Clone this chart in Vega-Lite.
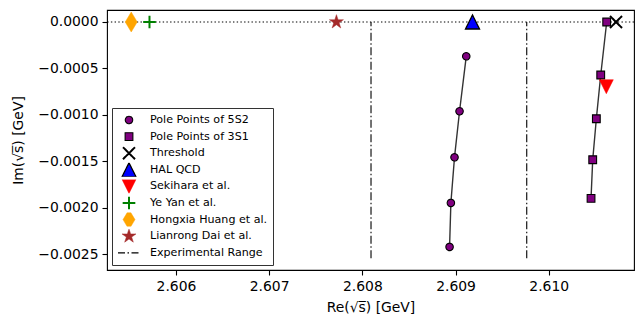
{
  "$schema": "https://vega.github.io/schema/vega-lite/v6.json",
  "width": 527,
  "height": 260,
  "autosize": "none",
  "padding": {"left": 107, "top": 10, "right": 3, "bottom": 50},
  "background": "white",
  "config": {
    "font": "DejaVu Sans",
    "view": {"stroke": "black", "strokeWidth": 1.1},
    "axis": {
      "grid": false, "domain": false, "tickColor": "black", "tickSize": 5, "tickWidth": 1.1,
      "labelColor": "black", "labelFontSize": 13.9, "titleFontSize": 13.9, "titleFontWeight": "normal",
      "titleColor": "black", "labelPadding": 4, "labelFont": "DejaVu Sans", "titleFont": "DejaVu Sans"
    },
    "legend": {
      "orient": "bottom-left", "offset": 5, "padding": 5, "fillColor": "rgba(255,255,255,0.85)",
      "strokeColor": "#333333", "labelFontSize": 11.1, "labelFont": "DejaVu Sans", "labelColor": "black",
      "labelLimit": 400, "rowPadding": 2.6, "labelOffset": 9, "clipHeight": 14
    }
  },
  "datasets": {
    "poles": [
      {"series": "Pole Points of 5S2", "re": 2.609115, "im": -0.000369},
      {"series": "Pole Points of 5S2", "re": 2.609043, "im": -0.000960},
      {"series": "Pole Points of 5S2", "re": 2.608989, "im": -0.001455},
      {"series": "Pole Points of 5S2", "re": 2.608950, "im": -0.001946},
      {"series": "Pole Points of 5S2", "re": 2.608936, "im": -0.002419},
      {"series": "Pole Points of 3S1", "re": 2.610622, "im": 0.0},
      {"series": "Pole Points of 3S1", "re": 2.610558, "im": -0.000570},
      {"series": "Pole Points of 3S1", "re": 2.610511, "im": -0.001040},
      {"series": "Pole Points of 3S1", "re": 2.610472, "im": -0.001481},
      {"series": "Pole Points of 3S1", "re": 2.610454, "im": -0.001896},
      {"series": "Threshold", "re": 2.610722, "im": 0.0},
      {"series": "HAL QCD", "re": 2.609182, "im": 0.0},
      {"series": "Sekihara et al.", "re": 2.610618, "im": -0.000696},
      {"series": "Ye Yan et al.", "re": 2.605716, "im": 0.0},
      {"series": "Hongxia Huang et al.", "re": 2.605520, "im": 0.0},
      {"series": "Lianrong Dai et al.", "re": 2.607722, "im": 0.0}
    ]
  },
  "layer": [
    {
      "data": {"values": [{"im": 0.0}]},
      "mark": {"type": "rule", "color": "black", "strokeWidth": 1.2, "strokeDash": [1.4, 2.3]},
      "encoding": {
        "y": {
          "field": "im", "type": "quantitative",
          "scale": {"domain": [-0.002667, 0.000129], "nice": false, "zero": false},
          "axis": {"values": [0, -0.0005, -0.001, -0.0015, -0.002, -0.0025], "format": ".4f", "title": "Im(√s̅) [GeV]", "titlePadding": 12}
        }
      }
    },
    {
      "data": {"values": [
        {"re": 2.608093, "im": -0.00254, "im2": 0.0},
        {"re": 2.609764, "im": -0.00254, "im2": 0.0}
      ]},
      "mark": {"type": "rule", "color": "black", "strokeWidth": 1.1, "strokeDash": [8, 2.5, 1.5, 2.5]},
      "encoding": {
        "x": {
          "field": "re", "type": "quantitative",
          "scale": {"domain": [2.60526, 2.610915], "nice": false, "zero": false},
          "axis": {"values": [2.606, 2.607, 2.608, 2.609, 2.61], "format": ".3f", "title": "Re(√s̅) [GeV]", "titlePadding": 8}
        },
        "y": {"field": "im", "type": "quantitative"},
        "y2": {"field": "im2"}
      }
    },
    {
      "data": {"name": "poles"},
      "transform": [{"filter": "datum.series === 'Pole Points of 5S2' || datum.series === 'Pole Points of 3S1'"}],
      "mark": {"type": "line", "color": "#333333", "strokeWidth": 1.4},
      "encoding": {
        "x": {"field": "re", "type": "quantitative"},
        "y": {"field": "im", "type": "quantitative"},
        "detail": {"field": "series"},
        "order": {"field": "im", "type": "quantitative"}
      }
    },
    {
      "data": {"name": "poles"},
      "mark": {"type": "point", "filled": true, "opacity": 1},
      "encoding": {
        "x": {"field": "re", "type": "quantitative"},
        "y": {"field": "im", "type": "quantitative"},
        "fill": {
          "field": "series", "type": "nominal",
          "scale": {
            "domain": ["Pole Points of 5S2", "Pole Points of 3S1", "Threshold", "HAL QCD", "Sekihara et al.", "Ye Yan et al.", "Hongxia Huang et al.", "Lianrong Dai et al.", "Experimental Range"],
            "range": ["#800080", "#800080", "black", "#0000ff", "#ff0000", "#008000", "#ffa500", "#a52a2a", "black"]
          },
          "legend": {"title": null}
        },
        "stroke": {
          "field": "series", "type": "nominal",
          "scale": {
            "domain": ["Pole Points of 5S2", "Pole Points of 3S1", "Threshold", "HAL QCD", "Sekihara et al.", "Ye Yan et al.", "Hongxia Huang et al.", "Lianrong Dai et al.", "Experimental Range"],
            "range": ["black", "black", "black", "black", "#ff0000", "#008000", "#ffa500", "#a52a2a", "black"]
          },
          "legend": {"title": null}
        },
        "shape": {
          "field": "series", "type": "nominal",
          "scale": {
            "domain": ["Pole Points of 5S2", "Pole Points of 3S1", "Threshold", "HAL QCD", "Sekihara et al.", "Ye Yan et al.", "Hongxia Huang et al.", "Lianrong Dai et al.", "Experimental Range"],
            "range": ["circle", "square", "M-1,-1L1,1M-1,1L1,-1", "M0,-1L1,1L-1,1Z", "M0,1L1,-1L-1,-1Z", "M-1,0L1,0M0,-1L0,1", "M0,-1L0.6,0L0,1L-0.6,0Z", "M0,-1L0.2245,-0.309L0.9511,-0.309L0.3633,0.118L0.5878,0.809L0,0.382L-0.5878,0.809L-0.3633,0.118L-0.9511,-0.309L-0.2245,-0.309Z", "stroke"]
          },
          "legend": {"title": null}
        },
        "size": {
          "field": "series", "type": "nominal",
          "scale": {
            "type": "ordinal",
            "domain": ["Pole Points of 5S2", "Pole Points of 3S1", "Threshold", "HAL QCD", "Sekihara et al.", "Ye Yan et al.", "Hongxia Huang et al.", "Lianrong Dai et al.", "Experimental Range"],
            "range": [55, 60, 144, 196, 196, 160, 400, 216, 484]
          },
          "legend": {"title": null}
        },
        "strokeWidth": {
          "field": "series", "type": "nominal",
          "scale": {
            "type": "ordinal",
            "domain": ["Pole Points of 5S2", "Pole Points of 3S1", "Threshold", "HAL QCD", "Sekihara et al.", "Ye Yan et al.", "Hongxia Huang et al.", "Lianrong Dai et al.", "Experimental Range"],
            "range": [1.1, 1.1, 2, 1.3, 0.5, 2, 0.5, 0.5, 1.2]
          },
          "legend": {"title": null}
        },
        "strokeDash": {
          "field": "series", "type": "nominal",
          "scale": {
            "domain": ["Pole Points of 5S2", "Pole Points of 3S1", "Threshold", "HAL QCD", "Sekihara et al.", "Ye Yan et al.", "Hongxia Huang et al.", "Lianrong Dai et al.", "Experimental Range"],
            "range": [[1, 0], [1, 0], [1, 0], [1, 0], [1, 0], [1, 0], [1, 0], [1, 0], [7, 2.5, 1.5, 2.5]]
          },
          "legend": {"title": null}
        }
      }
    }
  ]
}
